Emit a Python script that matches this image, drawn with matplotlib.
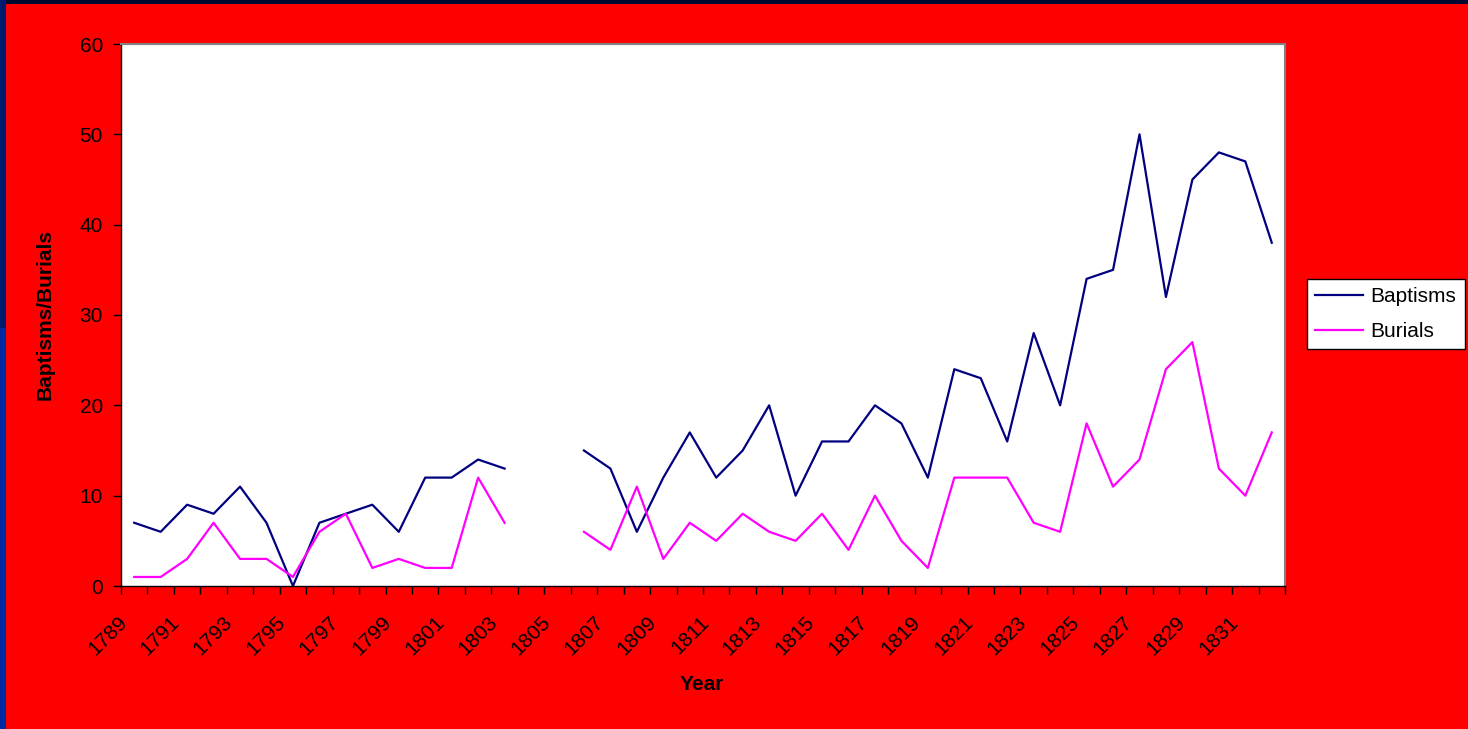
import numpy as np
import matplotlib
matplotlib.use("Agg")
import matplotlib.pyplot as plt
from matplotlib.patches import Rectangle
from matplotlib.transforms import ScaledTranslation

plt.rcParams['font.family'] = ['Liberation Sans', 'DejaVu Sans']

years = list(range(1789, 1833))
baptisms = [7, 6, 9, 8, 11, 7, 0, 7, 8, 9, 6, 12, 12, 14, 13, np.nan, np.nan,
            15, 13, 6, 12, 17, 12, 15, 20, 10, 16, 16, 20, 18, 12, 24, 23, 16,
            28, 20, 34, 35, 50, 32, 45, 48, 47, 38]
burials = [1, 1, 3, 7, 3, 3, 1, 6, 8, 2, 3, 2, 2, 12, 7, np.nan, np.nan,
           6, 4, 11, 3, 7, 5, 8, 6, 5, 8, 4, 10, 5, 2, 12, 12, 12,
           7, 6, 18, 11, 14, 24, 27, 13, 10, 17]
y_ticks = [0, 10, 20, 30, 40, 50, 60]

W, H = 1468, 729
fig = plt.figure(figsize=(W / 100, H / 100), dpi=100)
fig.patch.set_facecolor('#ff0000')

# slide frame along the top and left edges
fig.patches.append(Rectangle((0, 1 - 4 / H), 1, 4 / H, transform=fig.transFigure,
                             facecolor='#000a30', edgecolor='none', zorder=0))
fig.patches.append(Rectangle((0, 0), 6 / W, 1, transform=fig.transFigure,
                             facecolor='#0028a0', edgecolor='none', zorder=0))
fig.patches.append(Rectangle((0, 0.55), 6 / W, 0.45, transform=fig.transFigure,
                             facecolor='#001a70', edgecolor='none', zorder=0))

left, right, top, bottom = 121, 1285, 44, 586
ax = fig.add_axes([left / W, 1 - bottom / H, (right - left) / W, (bottom - top) / H])
ax.set_facecolor('white')

x = np.arange(len(years))
ax.plot(x, baptisms, color='#000080', lw=1.6, label='Baptisms')
ax.plot(x, burials, color='#ff00ff', lw=1.6, label='Burials')

ax.set_xlim(-0.5, len(years) - 0.5)
ax.set_ylim(0, 60)
ax.set_yticks(y_ticks)
ax.tick_params(axis='y', direction='out', length=6, width=1, labelsize=15, pad=7, colors='black')

# labels centred under every other category, tick marks on category boundaries
ax.set_xticks(x[::2])
ax.set_xticklabels([str(y) for y in years[::2]], rotation=45, ha='right',
                   va='top', rotation_mode='anchor', fontsize=15)
ax.tick_params(axis='x', which='major', length=0, pad=19)
shift = ScaledTranslation(-17 / 100, 0, fig.dpi_scale_trans)
for lab in ax.get_xticklabels():
    lab.set_transform(lab.get_transform() + shift)
ax.set_xticks(np.arange(-0.5, len(years)), minor=True)
ax.tick_params(axis='x', which='minor', direction='out', length=6, width=1)

for s in ['left', 'bottom']:
    ax.spines[s].set_color('black')
    ax.spines[s].set_linewidth(1)
for s in ['top', 'right']:
    ax.spines[s].set_color('#808080')
    ax.spines[s].set_linewidth(1.5)

fig.text(45 / W, 1 - 315 / H, 'Baptisms/Burials', rotation=90, ha='center',
         va='center', fontsize=15, fontweight='bold')
fig.text(702 / W, 1 - 685 / H, 'Year', ha='center', va='center',
         fontsize=15, fontweight='bold')

leg = fig.legend(loc='center', bbox_to_anchor=(1386 / W, 1 - 314 / H),
                 fontsize=15, frameon=True, fancybox=False, framealpha=1,
                 handlelength=2.3, handletextpad=0.35, borderpad=0.4,
                 labelspacing=0.75, borderaxespad=0)
leg.get_frame().set_edgecolor('black')
leg.get_frame().set_linewidth(1)
leg.get_frame().set_facecolor('white')

fig.savefig('out.png', dpi=100, facecolor=fig.get_facecolor())
